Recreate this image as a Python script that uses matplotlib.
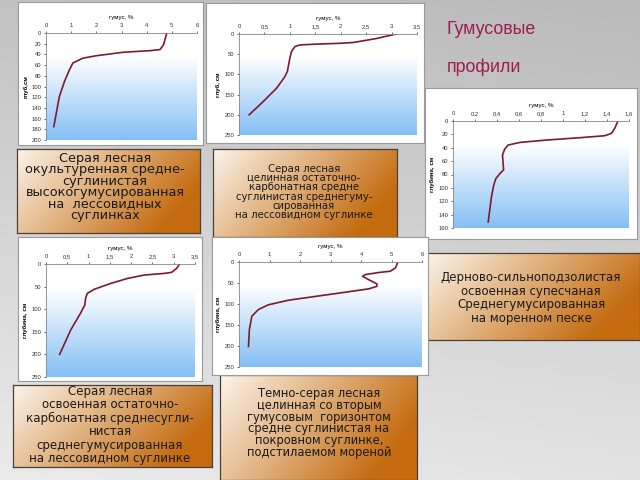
import numpy as np
import matplotlib.pyplot as plt
from matplotlib.colors import LinearSegmentedColormap, to_rgb

plt.rcParams['font.family'] = ['Liberation Sans', 'DejaVu Sans']

W, H = 640, 480

# humus, % vs depth, cm for each profile
hum1 = [4.8, 4.67, 4.53, 4.13, 3.07, 2.0, 1.47, 1.07, 0.93, 0.73, 0.53, 0.31]
dep1 = [0, 22, 31, 33, 36, 42.5, 47, 56, 69, 91, 119, 175]

hum2 = [3.09, 2.71, 2.25, 1.99, 1.53, 1.2, 1.1, 1.03, 1.0, 0.95, 0.9, 0.74, 0.47, 0.2]
dep2 = [0, 11, 21, 23, 25, 27, 31, 44, 60, 93, 106, 134, 168, 200]

hum3 = [1.5, 1.47, 1.44, 1.38, 1.15, 0.85, 0.61, 0.5, 0.47, 0.45, 0.46, 0.43, 0.39, 0.37, 0.35, 0.32]
dep3 = [0, 11, 18.5, 22, 25, 28.5, 32, 36, 42, 51, 73, 78, 86, 96, 113, 151]

hum4 = [3.14, 3.07, 2.95, 2.79, 2.31, 1.92, 1.52, 1.13, 0.97, 0.93, 0.91, 0.81, 0.58, 0.32]
dep4 = [0, 9.6, 18.5, 20.7, 24.4, 31.8, 43, 56, 65, 76, 91, 109, 146, 200]

hum5 = [5.21, 5.13, 4.96, 4.58, 4.14, 4.05, 4.25, 4.52, 4.52, 4.25, 3.48, 2.5, 1.62, 0.96, 0.64, 0.42, 0.34, 0.31]
dep5 = [0, 14, 22, 25, 30, 34, 42, 52, 58, 64, 72, 82, 91, 102, 113, 129, 161, 201]

xticks1 = [0, 1, 2, 3, 4, 5, 6]
yticks1 = [0, 20, 40, 60, 80, 100, 120, 140, 160, 180, 200]
xticks2 = [0, 0.5, 1, 1.5, 2, 2.5, 3, 3.5]
yticks2 = [0, 50, 100, 150, 200, 250]
xticks3 = [0, 0.2, 0.4, 0.6, 0.8, 1, 1.2, 1.4, 1.6]
yticks3 = [0, 20, 40, 60, 80, 100, 120, 140, 160]

xtitle = 'гумус, %'
ylabels = ['глуб,см', 'глуб, см', 'глубина, см', 'глубина, см', 'глубина, см']

title_lines = ['Гумусовые', 'профили']

text1 = 'Серая лесная\nокультуренная средне-\nсуглинистая\nвысокогумусированная\nна  лессовидных\nсуглинках'
text2 = ('Серая лесная\nцелинная остаточно-\nкарбонатная средне\n'
         'суглинистая среднегуму-\nсированная\nна лессовидном суглинке')
text3 = 'Дерново-сильноподзолистая\nосвоенная супесчаная\nСреднегумусированная\nна моренном песке'
text4 = ('Серая лесная\nосвоенная остаточно-\nкарбонатная среднесугли-\nнистая\n'
         'среднегумусированная\nна лессовидном суглинке')
text5 = ('Темно-серая лесная\nцелинная со вторым\nгумусовым  горизонтом\n'
         'средне суглинистая на\nпокровном суглинке,\nподстилаемом мореной')


def rect(x0, y0, x1, y1):
    return [x0 / W, 1 - y1 / H, (x1 - x0) / W, (y1 - y0) / H]


fig = plt.figure(figsize=(6.4, 4.8), dpi=100)

# grey slide background, darker at the top
bg = fig.add_axes([0, 0, 1, 1], zorder=-10)
yy, xx = np.mgrid[0:1:200j, 0:1:200j]
g = 0.73 + 0.16 * yy + 0.03 * (1 - xx)
bg.imshow(np.dstack([g, g, g]), extent=[0, 1, 0, 1], aspect='auto', origin='upper')
bg.set_xlim(0, 1)
bg.set_ylim(0, 1)
bg.axis('off')

blue = LinearSegmentedColormap.from_list('b', [(0, '#ffffff'), (0.22, '#ffffff'), (1, '#84bff4')])
light, dark = np.array(to_rgb('#fcf4ea')), np.array(to_rgb('#c46c10'))


def chart(panel, plot, hum, dep, xt, yt, ylab):
    pa = fig.add_axes(rect(*panel), zorder=2)
    pa.set_xticks([])
    pa.set_yticks([])
    pa.set_facecolor('white')
    for s in pa.spines.values():
        s.set_color('#9a9a9a')
        s.set_linewidth(0.8)
    ax = fig.add_axes(rect(*plot), zorder=3)
    grad = np.linspace(0, 1, 256).reshape(-1, 1)
    ax.imshow(grad, cmap=blue, extent=[0, 1, 0, 1], transform=ax.transAxes,
              aspect='auto', zorder=0)
    ax.plot(hum, dep, color='#7d1a2e', lw=1.2, zorder=2)
    ax.set_xlim(xt[0], xt[-1])
    ax.set_ylim(yt[-1], yt[0])
    ax.set_xticks(xt)
    ax.set_yticks(yt)
    ax.set_xticklabels([('%g' % v).replace('.', ',') for v in xt])
    ax.xaxis.tick_top()
    ax.xaxis.set_label_position('top')
    ax.set_xlabel(xtitle, fontsize=4.4, labelpad=3)
    ax.set_ylabel(ylab, fontsize=4.4, labelpad=2, fontweight='bold')
    ax.tick_params(labelsize=4.2, length=1.5, width=0.5, pad=2, colors='#333333')
    for k in ['right', 'bottom']:
        ax.spines[k].set_visible(False)
    for k in ['top', 'left']:
        ax.spines[k].set_color('#888888')
        ax.spines[k].set_linewidth(0.6)


def box(pos, text, tx, ty, size, ls):
    ax = fig.add_axes(rect(*pos), zorder=1)
    yy, xx = np.mgrid[0:1:60j, 0:1:120j]
    t = np.clip(xx * 0.85 + (1 - yy) * 0.35, 0, 1)[..., None]
    img = light + (dark - light) * t
    ax.imshow(img, extent=[0, 1, 0, 1], aspect='auto')
    ax.set_xlim(0, 1)
    ax.set_ylim(1, 0)
    ax.set_xticks([])
    ax.set_yticks([])
    for s in ax.spines.values():
        s.set_color('#4d4036')
        s.set_linewidth(0.9)
    ax.text((tx - pos[0]) / (pos[2] - pos[0]), (ty - pos[1]) / (pos[3] - pos[1]), text,
            ha='center', va='center', fontsize=size, linespacing=ls, color='#1a1a1a',
            family='DejaVu Sans', clip_on=False)


box((17, 149, 200, 233), text1, 105, 187, 9.3, 0.84)
box((213, 149, 397, 237), text2, 304, 192, 7.3, 0.92)
box((427, 253, 640, 340), text3, 531, 298, 8.5, 1.04)
box((13, 385, 212, 467), text4, 110, 425, 8.5, 1.05)
box((220, 375, 417, 480), text5, 319, 423, 8.3, 0.88)

chart((18, 2, 203, 145), (46, 33, 197, 140), hum1, dep1, xticks1, yticks1, ylabels[0])
chart((206, 3, 424, 143), (239, 34, 417, 135), hum2, dep2, xticks2, yticks2, ylabels[1])
chart((425, 88, 637, 239), (453, 121, 629, 228), hum3, dep3, xticks3, yticks3, ylabels[2])
chart((18, 237, 202, 381), (46, 264, 195, 377), hum4, dep4, xticks2, yticks2, ylabels[3])
chart((212, 237, 428, 375), (239, 262, 422, 367), hum5, dep5, xticks1, yticks2, ylabels[4])

fig.text(447 / W, 1 - 30 / H, title_lines[0], fontsize=12.8, color='#9b1d4c', va='center')
fig.text(447 / W, 1 - 67 / H, title_lines[1], fontsize=12.8, color='#9b1d4c', va='center')

fig.savefig('out.png', dpi=100)
